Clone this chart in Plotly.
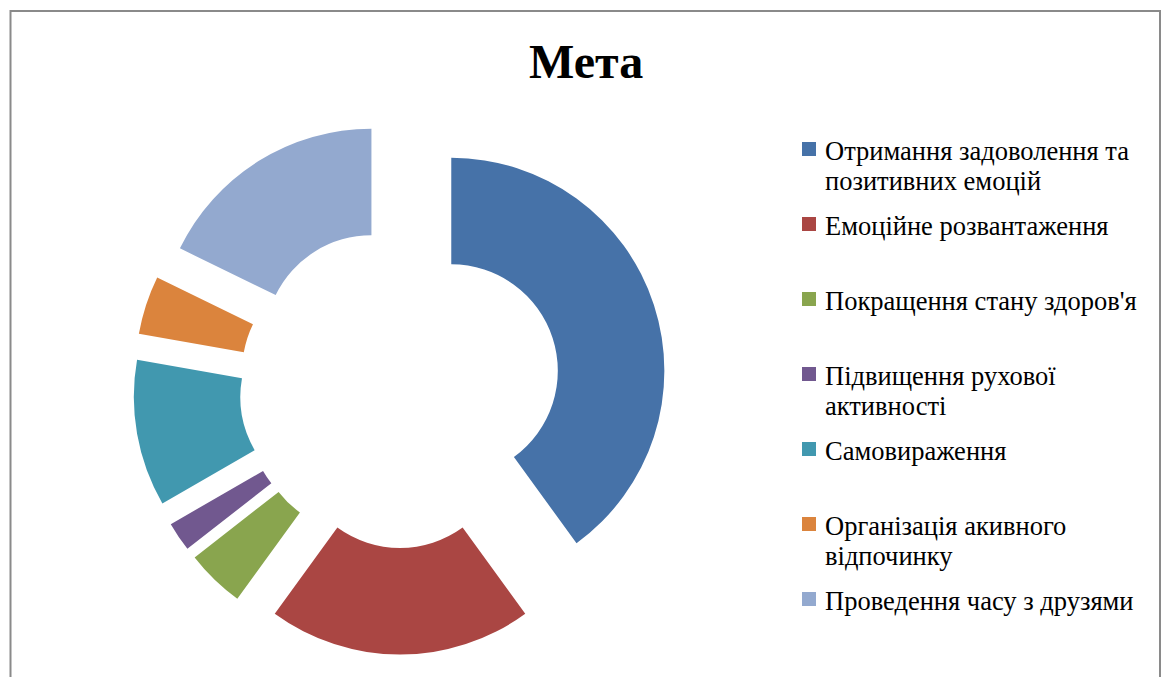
import plotly.graph_objects as go

title_text = "Мета"
labels = [
    "Отримання задоволення та\nпозитивних емоцій",
    "Емоційне розвантаження",
    "Покращення стану здоров'я",
    "Підвищення рухової\nактивності",
    "Самовираження",
    "Організація акивного\nвідпочинку",
    "Проведення часу з друзями",
]
values = [18, 9, 2, 1, 5, 2, 8]
colors = ["#4672A8", "#AA4643", "#89A54E", "#71588F", "#4198AF", "#DB843D", "#93A9CF"]

W, H = 1165, 677
FONT = "Liberation Serif, Times New Roman, serif"


def px(x):
    return x / W


def py(y):
    return (H - y) / H


fig = go.Figure()
fig.add_trace(go.Pie(
    labels=[l.replace("\n", " ") for l in labels],
    values=values,
    marker=dict(colors=colors, line=dict(width=0)),
    hole=0.5,
    pull=[0.253] * len(values),
    sort=False,
    direction="clockwise",
    rotation=0,
    textinfo="none",
    showlegend=False,
    domain=dict(x=[px(133), px(667)], y=[py(654.5), py(120.5)]),
))

annotations = [dict(
    text="<b>" + title_text + "</b>", x=px(586), y=py(62), xref="paper", yref="paper",
    xanchor="center", yanchor="middle", showarrow=False,
    font=dict(family=FONT, size=48, color="#000000"),
)]
shapes = [dict(
    type="rect", xref="paper", yref="paper",
    x0=px(10.5), x1=px(1160), y0=-0.05, y1=py(11),
    line=dict(color="#8a8a8a", width=2), fillcolor="rgba(0,0,0,0)", layer="below",
)]

y_start, y_step, line_gap = 149, 75, 30
for i, (lab, col) in enumerate(zip(labels, colors)):
    yc = y_start + i * y_step
    shapes.append(dict(
        type="rect", xref="paper", yref="paper",
        x0=px(802), x1=px(816), y0=py(yc + 7), y1=py(yc - 7),
        line=dict(width=0), fillcolor=col,
    ))
    for j, line in enumerate(lab.split("\n")):
        annotations.append(dict(
            text=line, x=px(823), y=py(yc + 2 + j * line_gap), xref="paper", yref="paper",
            xanchor="left", yanchor="middle", showarrow=False,
            font=dict(family=FONT, size=26.5, color="#000000"),
        ))

fig.update_layout(
    width=W, height=H,
    margin=dict(l=0, r=0, t=0, b=0),
    paper_bgcolor="#ffffff", plot_bgcolor="#ffffff",
    annotations=annotations, shapes=shapes,
)
fig.write_html(
    "out.html",
    config={"displayModeBar": False},
    post_script="document.body.style.margin='0px';document.body.style.overflow='hidden';",
)
